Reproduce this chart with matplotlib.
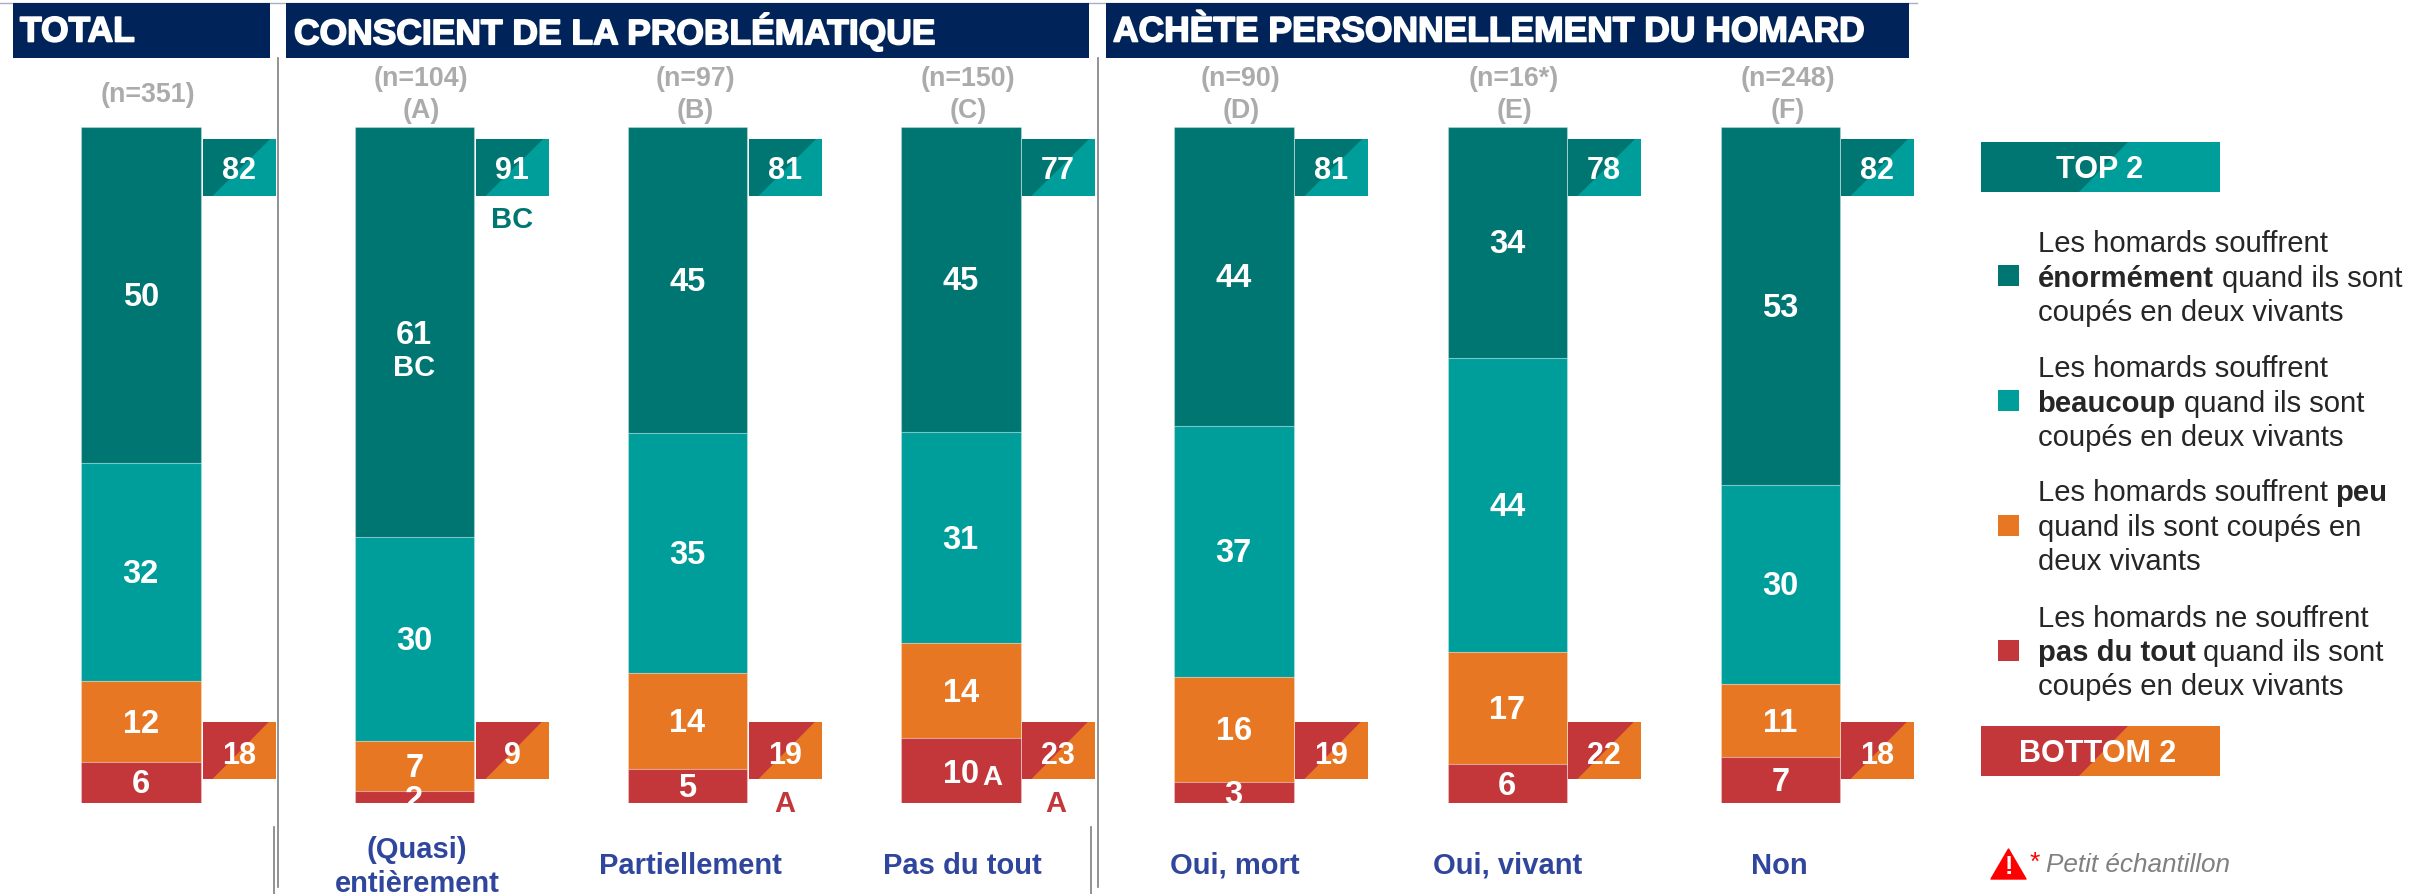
import numpy as np
import matplotlib
matplotlib.use("Agg")
import matplotlib.pyplot as plt
import matplotlib.patheffects as pe
from matplotlib.patches import Polygon, Rectangle

plt.rcParams['font.family'] = ['Liberation Sans', 'DejaVu Sans']

# -----------------------------
# DATA
# -----------------------------
groups = ["TOTAL", "A", "B", "C", "D", "E", "F"]
sample_sizes = ["(n=351)", "(n=104)", "(n=97)", "(n=150)", "(n=90)", "(n=16*)", "(n=248)"]
letters = ["", "(A)", "(B)", "(C)", "(D)", "(E)", "(F)"]
bottom_labels = ["", "(Quasi)\nentièrement", "Partiellement", "Pas du tout", "Oui, mort", "Oui, vivant", "Non"]

enormement = [49.7, 60.6, 45.3, 45.1, 44.2, 34.1, 52.9]
beaucoup = [32.3, 30.2, 35.4, 31.3, 37.1, 43.5, 29.5]
peu = [11.9, 7.4, 14.2, 14.0, 15.6, 16.7, 10.8]
pas_du_tout = [6.1, 1.8, 5.1, 9.6, 3.1, 5.7, 6.8]

top2 = [82, 91, 81, 77, 81, 78, 82]
bottom2 = [18, 9, 19, 23, 19, 22, 18]

headers = ["TOTAL", "CONSCIENT DE LA PROBLÉMATIQUE", "ACHÈTE PERSONNELLEMENT DU HOMARD"]

legend_lines = [
    [[("Les homards souffrent", False)],
     [("énormément", True), ("quand ils sont", False)],
     [("coupés en deux vivants", False)]],
    [[("Les homards souffrent", False)],
     [("beaucoup", True), ("quand ils sont", False)],
     [("coupés en deux vivants", False)]],
    [[("Les homards souffrent", False), ("peu", True)],
     [("quand ils sont coupés en", False)],
     [("deux vivants", False)]],
    [[("Les homards ne souffrent", False)],
     [("pas du tout", True), ("quand ils sont", False)],
     [("coupés en deux vivants", False)]],
]

# -----------------------------
# STYLE / LAYOUT (pixels of the 2430x894 image)
# -----------------------------
DARK_TEAL = "#007672"
TEAL = "#009E9B"
ORANGE = "#E77722"
RED = "#C3373B"
NAVY = "#00245A"
GREY = "#ABABAB"
BLUE = "#2F469C"
TEXT = "#262626"

W, H = 2430, 894
BAR_TOP, BAR_BOTTOM = 127, 803
bar_left = [81, 354.5, 627.5, 901, 1174, 1447.5, 1720.5]
BAR_W = 119.5
box_left = [203, 476, 749, 1022, 1295, 1568, 1841]
BOX_W = 73

fig = plt.figure(figsize=(W / 100, H / 100), dpi=100, facecolor="white")

# overlay axes in image pixels
ax = fig.add_axes([0, 0, 1, 1], zorder=1)
ax.set_xlim(0, W)
ax.set_ylim(H, 0)
ax.axis("off")
ax.patch.set_alpha(0)

# bars axes, y is the percentage
ax_bar = fig.add_axes([0, 1 - BAR_BOTTOM / H, 1, (BAR_BOTTOM - BAR_TOP) / H], zorder=0)
ax_bar.set_xlim(0, W)
ax_bar.set_ylim(100, 0)
ax_bar.axis("off")


def px(x, y, s, size=21, color="white", weight="bold", ha="center", va="center", **kw):
    # Liberation sits a bit high with va=center
    if va == "center":
        y = y + 2.5
    return ax.text(x, y, s, fontsize=size, color=color, fontweight=weight, ha=ha, va=va, **kw)


# -----------------------------
# STACKED BARS
# -----------------------------
centers = np.array(bar_left) + BAR_W / 2
series = [enormement, beaucoup, peu, pas_du_tout]
colors = [DARK_TEAL, TEAL, ORANGE, RED]
start = np.zeros(len(groups))
for values, color in zip(series, colors):
    values = np.array(values)
    ax_bar.bar(centers, values, width=BAR_W, bottom=start, color=color,
               edgecolor=(1, 1, 1, 0.25), linewidth=0.8)
    for i, v in enumerate(values):
        y = start[i] + v / 2
        ypx = BAR_TOP + y / 100 * (BAR_BOTTOM - BAR_TOP)
        label = str(int(round(v)))
        if label == "61":
            px(centers[i], ypx + 1, label, size=23.5)
            px(centers[i], ypx + 34, "BC", size=21)
        elif label == "10" and color == RED:
            px(centers[i], ypx + 1, label, size=23.5)
            px(992, ypx + 5, "A", size=20)
        elif label == "2":
            t = px(centers[i], ypx + 1, label, size=23.5)
            t.set_clip_path(Rectangle((bar_left[i], BAR_TOP), BAR_W, BAR_BOTTOM - BAR_TOP,
                                      transform=ax.transData))
        else:
            px(centers[i], ypx, label, size=23.5)
    start = start + values


# -----------------------------
# TOP 2 / BOTTOM 2 BOXES
# -----------------------------
def split_box(x, y, w, h, left_color, right_color, frac_bottom, frac_top):
    ax.add_patch(Rectangle((x, y), w, h, facecolor=right_color, edgecolor="none"))
    ax.add_patch(Polygon([(x, y), (x + w * frac_top, y), (x + w * frac_bottom, y + h), (x, y + h)],
                         closed=True, facecolor=left_color, edgecolor="none"))


for i in range(len(groups)):
    split_box(box_left[i], 139, BOX_W, 57, DARK_TEAL, TEAL, 0.13, 0.92)
    px(box_left[i] + BOX_W / 2 - 0.5, 168.5, str(top2[i]), size=22)
    split_box(box_left[i], 722, BOX_W, 57, RED, ORANGE, 0.13, 0.9)
    px(box_left[i] + BOX_W / 2 - 0.5, 753, str(bottom2[i]), size=22)

px(512, 218, "BC", size=21, color=DARK_TEAL)
px(785, 802, "A", size=21, color=RED)
px(1056, 802, "A", size=21, color=RED)

# -----------------------------
# HEADERS
# -----------------------------
header_spans = [(13, 270), (286, 1089), (1106, 1909)]
header_text_x = [20, 294, 1113]
for (x0, x1), tx, title in zip(header_spans, header_text_x, headers):
    ax.add_patch(Rectangle((x0, 3), x1 - x0, 55, facecolor=NAVY, edgecolor="none"))
    px(tx, 29.5, title, size=25.5, ha="left",
       path_effects=[pe.withStroke(linewidth=1.2, foreground="white")])
ax.plot([0, 1917], [3, 3], color="#A8B0C8", lw=1, zorder=0)

# separators
for x, y0, y1 in [(277.5, 58, 887), (273.7, 827, 894), (1097.5, 58, 887), (1091, 827, 894)]:
    ax.plot([x, x], [y0, y1], color="#7F7F7F", lw=1.2)

# -----------------------------
# COLUMN LABELS
# -----------------------------
n_x = [148, 421, 695, 968, 1241, 1514, 1788]
for i in range(len(groups)):
    if letters[i]:
        px(n_x[i], 77, sample_sizes[i], size=19.3, color=GREY)
        px(n_x[i], 109, letters[i], size=19.3, color=GREY)
    else:
        px(n_x[i], 93, sample_sizes[i], size=19.3, color=GREY)

label_x = [0, 417, 690, 962, 1235, 1508, 1779]
for i, label in enumerate(bottom_labels):
    if not label:
        continue
    parts = label.split("\n")
    if len(parts) == 2:
        px(label_x[i], 848, parts[0], size=21, color=BLUE)
        px(label_x[i], 882, parts[1], size=21, color=BLUE)
    else:
        px(label_x[i], 863, label, size=21, color=BLUE)

# -----------------------------
# LEGEND
# -----------------------------
split_box(1981, 142, 239, 50, DARK_TEAL, TEAL, 0.41, 0.615)
px(2100, 168, "TOP 2", size=22)
split_box(1981, 726, 239, 50, RED, ORANGE, 0.41, 0.615)
px(2098, 752, "BOTTOM 2", size=22)

square_y = [265, 390, 515, 640]
baselines = [[252, 287, 321], [377, 412, 446], [501, 536, 570], [627, 661, 695]]
renderer = fig.canvas.get_renderer()
for color, sy, block, ys in zip(colors, square_y, legend_lines, baselines):
    ax.add_patch(Rectangle((1998, sy), 21, 21, facecolor=color, edgecolor="none"))
    for line, y in zip(block, ys):
        x = 2037.5
        for text, bold in line:
            t = px(x, y, text, size=21.1, color=TEXT, weight="bold" if bold else "normal",
                   ha="left", va="baseline")
            x = t.get_window_extent(renderer).x1 + 8

# small sample note
ax.add_patch(Polygon([(2008.5, 849), (2026, 879), (1991, 879)], closed=True,
                     facecolor="#FF0000", edgecolor="#FF0000", linewidth=1, joinstyle="round"))
px(2008.5, 864, "!", size=18, color="white")
px(2034.5, 860, "*", size=19, color="#FF0000", weight="normal")
px(2046, 862, "Petit échantillon", size=18.8, color="#808080", weight="normal", ha="left",
   style="italic")

fig.savefig("out.png", dpi=100, facecolor="white")
